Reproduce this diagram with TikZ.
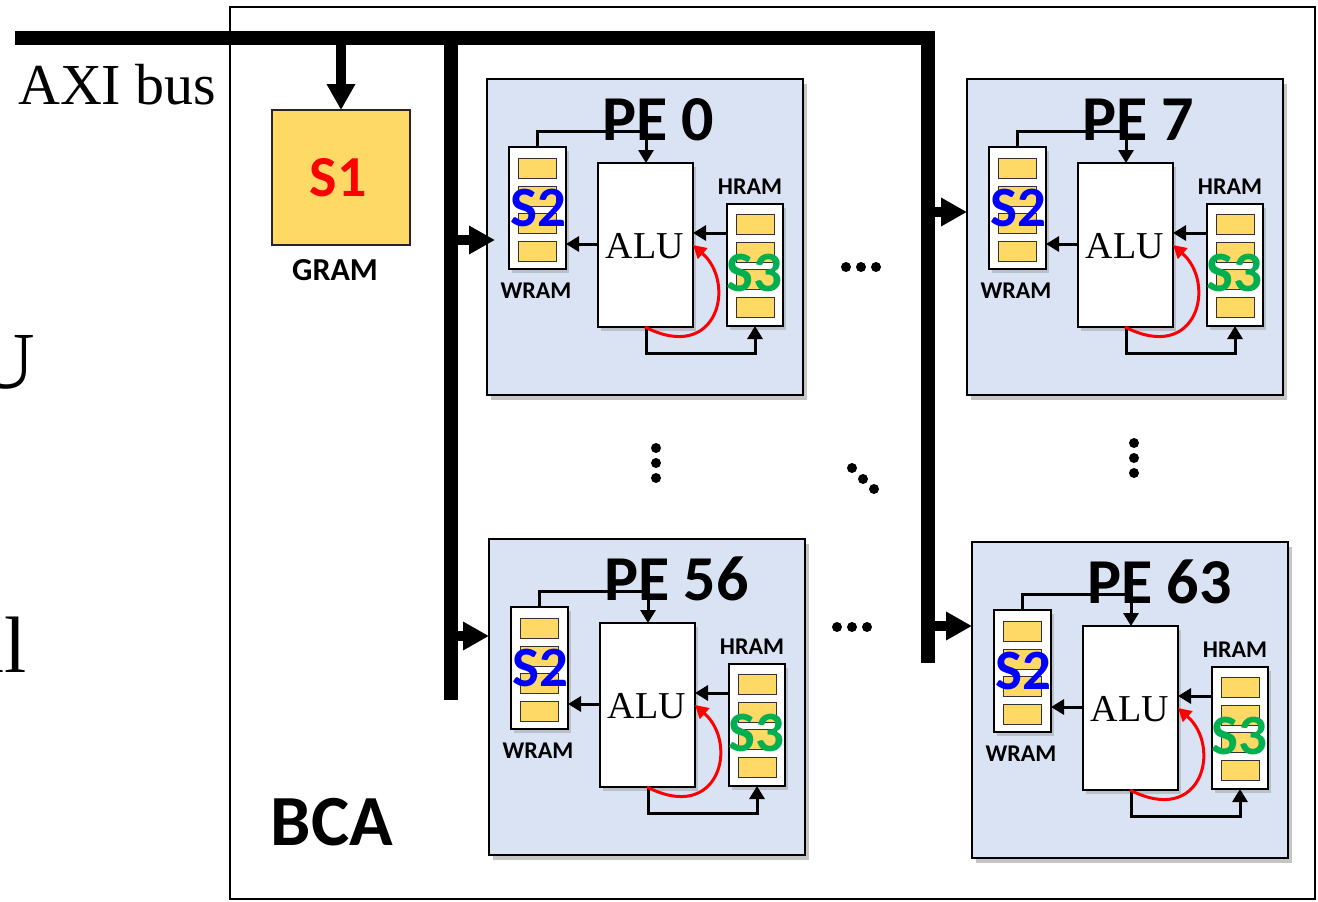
\documentclass[tikz,border=0pt]{standalone}
\usepackage{fontspec}
\setmainfont{Liberation Serif}
\newfontfamily\calibrifont{Carlito}
\usetikzlibrary{arrows.meta,shadows}
\definecolor{ramyellow}{HTML}{FFD966}
\definecolor{peblue}{HTML}{DAE3F3}
\definecolor{sgreen}{HTML}{00B050}
\tikzset{
  pebg/.style={draw=black, line width=2.2pt, fill=peblue, inner sep=0, outer sep=0,
    drop shadow={shadow xshift=4pt, shadow yshift=-5pt, fill=black!45, opacity=0.5}},
  ram/.style={draw=black, line width=2pt, fill=white, inner sep=0, outer sep=0,
    drop shadow={shadow xshift=3pt, shadow yshift=-4pt, fill=black!45, opacity=0.4}},
  cell/.style={draw=black!80, line width=1pt, fill=ramyellow, inner sep=0, outer sep=0,
    minimum width=38pt, minimum height=20pt},
  petitle/.style={font=\calibrifont\bfseries\fontsize{64}{64}\selectfont, inner sep=0},
  ramlabel/.style={font=\calibrifont\bfseries\fontsize{24}{24}\selectfont, inner sep=0},
  slabel/.style={font=\calibrifont\bfseries\fontsize{57}{57}\selectfont, inner sep=0},
  alutext/.style={font=\fontsize{38}{38}\selectfont, inner sep=0},
  conn/.style={draw=black, line width=3pt},
  connarr/.style={conn, -{Triangle[length=13pt,width=15pt]}},
  redarr/.style={draw=red, line width=3pt, -{Triangle[length=13pt,width=14pt]}},
  bus/.style={draw=black, line width=14pt, line cap=butt, line join=miter},
  busarrow/.style={draw=black, line width=10pt, -{Triangle[length=26pt,width=27pt]}},
}
\newcommand{\pebox}[4]{%
\begin{scope}[shift={(#2,#3)}]
  \node[pebg, anchor=north west, minimum width=316pt, minimum height=316pt] (#1) at (0,0) {};
  \node[petitle, anchor=base west] (#1t) at (115,61) {#4};
  \node[ram, anchor=north west, minimum width=57pt, minimum height=122pt] (#1w) at (22,68) {};
  \foreach \yy/\k in {79/a,107/b,134/c,162/d}
    \node[cell, anchor=north west] (#1w\k) at (31,\yy) {};
  \node[ram, anchor=north west, minimum width=56pt, minimum height=122pt] (#1h) at (240,125) {};
  \foreach \yy/\k in {135/a,163/b,190/c,218/d}
    \node[cell, anchor=north west] (#1h\k) at (249,\yy) {};
  \node[ram, anchor=north west, minimum width=95pt, minimum height=164pt] (#1a) at (111,84) {};
  \node[alutext] (#1al) at (158,167) {ALU};
  \node[ramlabel] (#1wl) at (49,212) {WRAM};
  \node[ramlabel] (#1hl) at (263,108) {HRAM};
  \node[slabel, text=blue] (#1s2) at (51,129) {S2};
  \node[slabel, text=sgreen] (#1s3) at (267,194) {S3};
  \coordinate (#1top) at (159,52);
  \coordinate (#1bot) at (268,274);
  \draw[connarr] (#1w.north) |- (#1top) -- (#1a.north -| #1top);
  \draw[connarr] (#1a.west |- 0,165) -- (#1w.east |- 0,165);
  \draw[connarr] (#1h.west |- 0,154) -- (#1a.east |- 0,154);
  \draw[connarr] (#1a.south -| #1top) |- (#1bot) -- (#1h.south);
  \draw[redarr] (#1a.south -| 158,0) .. controls (230,285) and (250,205) .. (#1a.east |- 0,166);
\end{scope}}
\begin{document}
\begin{tikzpicture}[x=1pt,y=-1pt]
  \useasboundingbox (0,0) rectangle (1318,902);
  \clip (0,0) rectangle (1318,902);
  % BCA frame
  \node[draw=black, line width=2pt, inner sep=0, outer sep=0, anchor=north west,
        minimum width=1085pt, minimum height=892pt] (bca) at (230,7) {};
  \node[font=\calibrifont\bfseries\fontsize{72}{72}\selectfont, inner sep=0] (bcalabel) at (332,822) {BCA};
  % left cropped text
  \node[anchor=base west, inner sep=0, font=\fontsize{58}{58}\selectfont] (axi) at (18,104) {AXI bus};
  \node[anchor=base east, inner sep=0, font=\fontsize{81}{81}\selectfont] (cutu) at (35,388) {U};
  \node[anchor=base east, inner sep=0, font=\fontsize{80}{80}\selectfont] (cutl) at (27,672) {ll};
  % GRAM
  \node[draw=black!85, line width=1.5pt, fill=ramyellow, inner sep=0, outer sep=0, anchor=north west,
        minimum width=138pt, minimum height=135pt] (gram) at (272,110) {};
  \node[font=\calibrifont\bfseries\fontsize{58}{58}\selectfont, text=red, inner sep=0] (s1) at ([xshift=-3pt]gram.center) {S1};
  \node[font=\calibrifont\bfseries\fontsize{32}{32}\selectfont, inner sep=0] (gramlabel) at (335,270) {GRAM};
  % PEs
  \pebox{pea}{487}{79}{PE 0}
  \pebox{peb}{967}{79}{PE 7}
  \pebox{pec}{489}{539}{PE 56}
  \pebox{ped}{972}{542}{PE 63}
  % buses
  \coordinate (busstart) at (15,37.5);
  \coordinate (buscorner) at (928,37.5);
  \coordinate (busrend) at (928,663);
  \coordinate (busltop) at (451,37.5);
  \coordinate (buslend) at (451,700);
  \draw[bus] (busstart) -- (buscorner) -- (busrend);
  \draw[bus] (busltop) -- (buslend);
  \draw[busarrow] (341,44) -- (gram.north);
  \draw[busarrow] (buslend |- 0,240) -- ([xshift=8pt]pea.west |- 0,240);
  \draw[busarrow] (busrend |- 0,212) -- (peb.west |- 0,212);
  \draw[busarrow] (buslend |- 0,636) -- (pec.west |- 0,636);
  \draw[busarrow] (busrend |- 0,626) -- (ped.west |- 0,626);
  % ellipsis dots
  \foreach \x/\y in {846/267,861/267,876/267, 837/627,852/627,867/627,
                     656/448,656/463,656/478, 1134/443,1134/458,1134/473,
                     852/468,863/479,874/489}
    \fill (\x,\y) circle (5pt);
\end{tikzpicture}
\end{document}
